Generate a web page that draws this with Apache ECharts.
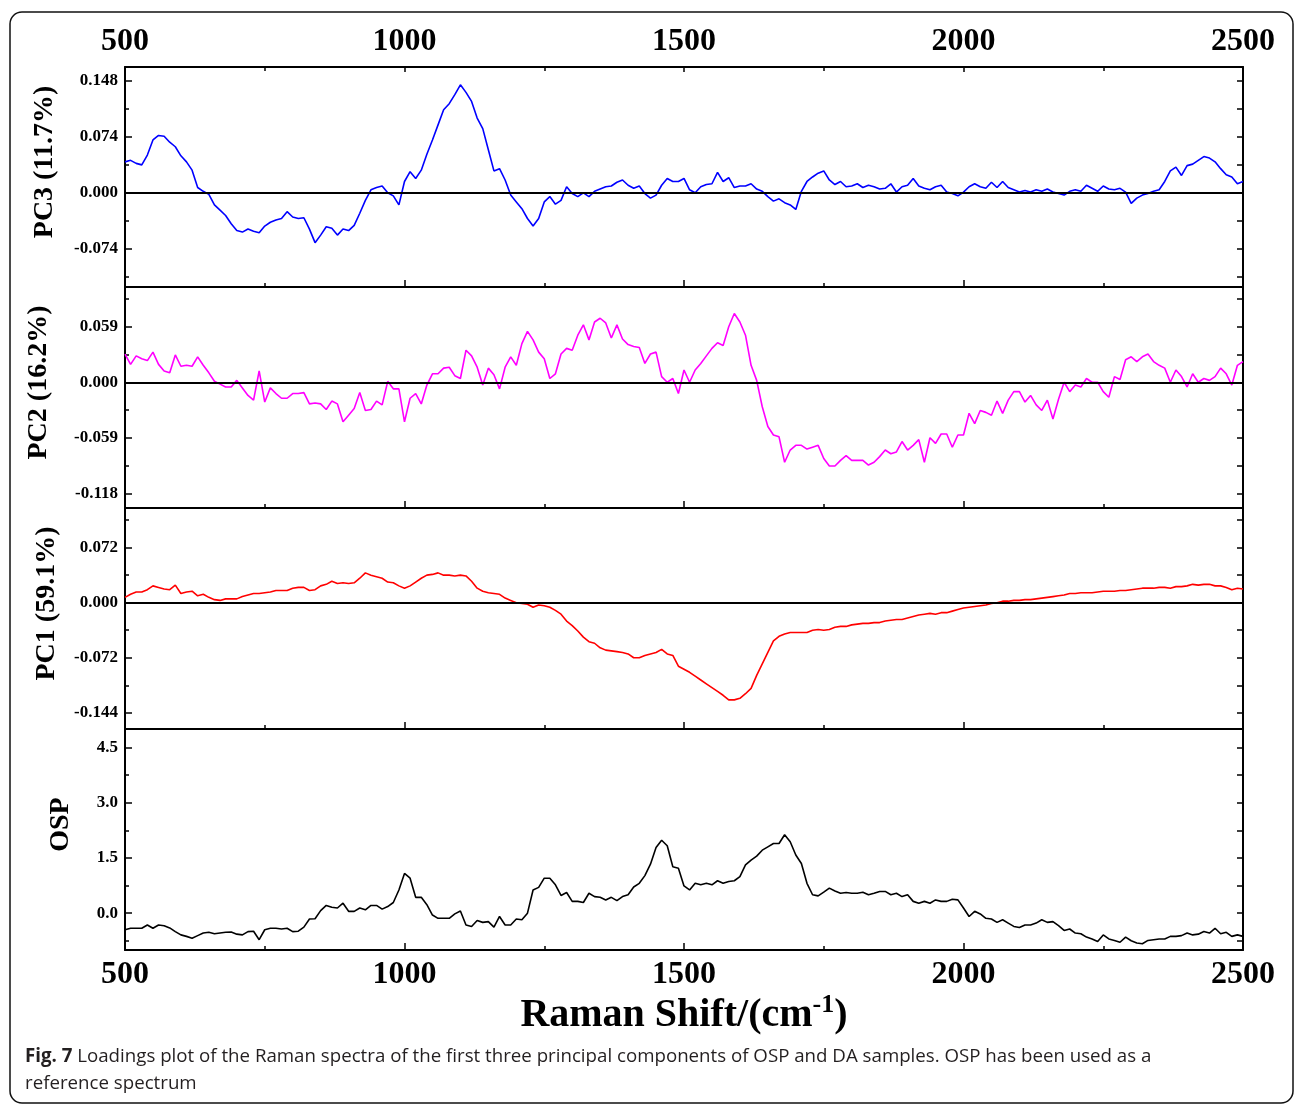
<!DOCTYPE html>
<html>
<head>
<meta charset="utf-8">
<script src="https://cdn.jsdelivr.net/npm/echarts@6/dist/echarts.min.js"></script>
<style>
html,body{margin:0;padding:0;background:#fff;}
#chart{width:1296px;height:1105px;}
</style>
</head>
<body>
<div id="chart"></div>
<script>
// Raman shift grid (cm-1)
const shiftStart = 500, shiftEnd = 2500, shiftStep = 10;
const xTickLabels = [500, 1000, 1500, 2000, 2500];

// PC3 loadings (11.7%)
const pc3 = [
0.041,0.043,0.039,0.037,0.050,0.070,0.076,0.075,0.067,0.061,
0.049,0.041,0.030,0.007,0.002,-0.002,-0.016,-0.023,-0.030,-0.041,
-0.050,-0.052,-0.048,-0.051,-0.053,-0.044,-0.039,-0.036,-0.034,-0.025,
-0.032,-0.034,-0.033,-0.048,-0.066,-0.056,-0.045,-0.047,-0.056,-0.048,
-0.050,-0.043,-0.027,-0.010,0.004,0.007,0.009,0.000,-0.004,-0.016,
0.015,0.028,0.019,0.030,0.051,0.070,0.090,0.110,0.118,0.130,
0.143,0.133,0.121,0.099,0.085,0.057,0.029,0.032,0.017,-0.003,
-0.012,-0.021,-0.034,-0.044,-0.034,-0.012,-0.005,-0.015,-0.010,0.008,
-0.001,-0.005,0.000,-0.005,0.002,0.005,0.008,0.009,0.014,0.017,
0.010,0.006,0.009,-0.001,-0.007,-0.003,0.010,0.019,0.015,0.015,
0.019,0.004,0.000,0.008,0.011,0.012,0.027,0.015,0.020,0.007,
0.009,0.009,0.012,0.005,0.002,-0.005,-0.011,-0.008,-0.013,-0.016,
-0.022,0.002,0.015,0.021,0.026,0.029,0.017,0.011,0.015,0.008,
0.009,0.012,0.007,0.010,0.008,0.005,0.006,0.012,0.001,0.008,
0.010,0.019,0.009,0.006,0.004,0.008,0.010,0.001,-0.001,-0.004,
0.001,0.008,0.012,0.008,0.006,0.014,0.007,0.015,0.007,0.004,
0.001,0.003,0.001,0.004,0.002,0.005,0.001,-0.001,-0.003,0.002,
0.004,0.002,0.010,0.006,0.002,0.009,0.005,0.004,0.006,0.001,
-0.014,-0.007,-0.003,-0.001,0.002,0.004,0.015,0.029,0.034,0.023,
0.036,0.038,0.043,0.048,0.046,0.041,0.032,0.024,0.021,0.012,
0.015];

// PC2 loadings (16.2%)
const pc2 = [
0.030,0.019,0.028,0.025,0.023,0.032,0.019,0.012,0.010,0.029,
0.017,0.018,0.017,0.027,0.018,0.010,0.001,-0.002,-0.005,-0.005,
0.002,-0.006,-0.014,-0.019,0.012,-0.021,-0.006,-0.012,-0.017,-0.017,
-0.012,-0.012,-0.011,-0.023,-0.022,-0.023,-0.029,-0.020,-0.023,-0.042,
-0.035,-0.028,-0.011,-0.030,-0.029,-0.020,-0.024,0.001,-0.007,-0.007,
-0.042,-0.017,-0.012,-0.023,-0.003,0.009,0.009,0.015,0.016,0.007,
0.004,0.034,0.028,0.016,-0.003,0.015,0.008,-0.007,0.016,0.027,
0.018,0.041,0.054,0.045,0.032,0.025,0.004,0.009,0.030,0.036,
0.034,0.050,0.061,0.045,0.064,0.068,0.063,0.047,0.061,0.046,
0.040,0.038,0.037,0.020,0.030,0.032,0.006,0.000,0.004,-0.012,
0.013,0.000,0.013,0.020,0.028,0.036,0.042,0.039,0.059,0.073,
0.064,0.050,0.018,0.002,-0.026,-0.047,-0.056,-0.058,-0.085,-0.072,
-0.067,-0.067,-0.071,-0.069,-0.067,-0.081,-0.089,-0.089,-0.083,-0.078,
-0.083,-0.083,-0.083,-0.088,-0.085,-0.079,-0.072,-0.076,-0.074,-0.063,
-0.072,-0.067,-0.061,-0.085,-0.059,-0.065,-0.055,-0.055,-0.069,-0.056,
-0.056,-0.033,-0.044,-0.030,-0.032,-0.035,-0.020,-0.033,-0.019,-0.010,
-0.010,-0.021,-0.014,-0.024,-0.030,-0.019,-0.039,-0.018,0.000,-0.010,
-0.003,-0.005,0.004,0.000,0.000,-0.010,-0.016,0.006,0.003,0.024,
0.027,0.022,0.027,0.030,0.022,0.018,0.015,0.000,0.013,0.006,
-0.005,0.009,0.000,0.004,0.002,0.006,0.015,0.009,-0.003,0.018,
0.022];

// PC1 loadings (59.1%)
const pc1 = [
0.007,0.011,0.014,0.014,0.017,0.022,0.020,0.018,0.017,0.023,
0.012,0.014,0.015,0.009,0.011,0.007,0.004,0.003,0.005,0.005,
0.005,0.008,0.010,0.012,0.012,0.013,0.014,0.016,0.016,0.016,
0.019,0.020,0.020,0.016,0.017,0.022,0.024,0.028,0.025,0.026,
0.025,0.026,0.032,0.039,0.036,0.034,0.032,0.027,0.026,0.022,
0.019,0.022,0.027,0.032,0.036,0.037,0.039,0.036,0.036,0.035,
0.036,0.035,0.028,0.019,0.015,0.013,0.012,0.011,0.006,0.003,
0.000,-0.001,-0.002,-0.006,-0.003,-0.004,-0.006,-0.010,-0.015,-0.024,
-0.030,-0.037,-0.045,-0.051,-0.053,-0.059,-0.062,-0.063,-0.064,-0.065,
-0.067,-0.072,-0.072,-0.069,-0.067,-0.065,-0.061,-0.067,-0.069,-0.083,
-0.087,-0.091,-0.096,-0.101,-0.106,-0.111,-0.116,-0.121,-0.127,-0.127,
-0.125,-0.119,-0.112,-0.095,-0.080,-0.065,-0.050,-0.044,-0.041,-0.039,
-0.039,-0.039,-0.039,-0.036,-0.035,-0.036,-0.035,-0.032,-0.031,-0.031,
-0.029,-0.028,-0.027,-0.027,-0.026,-0.026,-0.024,-0.023,-0.022,-0.022,
-0.020,-0.018,-0.016,-0.015,-0.014,-0.015,-0.013,-0.013,-0.011,-0.009,
-0.007,-0.006,-0.005,-0.004,-0.003,-0.001,0.000,0.002,0.002,0.003,
0.003,0.004,0.004,0.005,0.006,0.007,0.008,0.009,0.010,0.012,
0.012,0.013,0.013,0.013,0.014,0.015,0.015,0.015,0.016,0.016,
0.017,0.018,0.019,0.019,0.019,0.020,0.020,0.019,0.021,0.021,
0.022,0.024,0.023,0.024,0.024,0.022,0.022,0.020,0.017,0.019,
0.018];

// OSP reference spectrum
const osp = [
-0.45,-0.41,-0.41,-0.41,-0.32,-0.41,-0.32,-0.34,-0.40,-0.50,
-0.59,-0.63,-0.68,-0.61,-0.54,-0.52,-0.56,-0.54,-0.52,-0.51,
-0.57,-0.59,-0.50,-0.49,-0.72,-0.45,-0.41,-0.41,-0.43,-0.41,
-0.50,-0.49,-0.38,-0.16,-0.15,0.07,0.21,0.16,0.14,0.27,
0.05,0.05,0.14,0.09,0.21,0.21,0.11,0.18,0.29,0.63,
1.08,0.95,0.43,0.43,0.23,-0.05,-0.14,-0.14,-0.14,-0.02,
0.06,-0.32,-0.36,-0.20,-0.25,-0.23,-0.38,-0.09,-0.32,-0.32,
-0.16,-0.18,0.00,0.63,0.70,0.95,0.95,0.77,0.48,0.56,
0.32,0.32,0.29,0.54,0.45,0.43,0.36,0.43,0.34,0.45,
0.50,0.71,0.81,1.02,1.33,1.78,1.98,1.83,1.26,1.22,
0.74,0.63,0.81,0.77,0.81,0.77,0.88,0.81,0.86,0.88,
0.99,1.31,1.44,1.55,1.71,1.80,1.89,1.89,2.13,1.94,
1.58,1.35,0.81,0.50,0.47,0.57,0.68,0.60,0.54,0.56,
0.54,0.54,0.57,0.50,0.54,0.59,0.59,0.50,0.54,0.45,
0.50,0.32,0.27,0.32,0.27,0.36,0.32,0.32,0.38,0.36,
0.14,-0.09,0.05,-0.02,-0.14,-0.16,-0.25,-0.18,-0.27,-0.36,
-0.39,-0.32,-0.32,-0.27,-0.18,-0.25,-0.23,-0.34,-0.47,-0.43,
-0.54,-0.56,-0.65,-0.70,-0.77,-0.59,-0.70,-0.74,-0.79,-0.65,
-0.75,-0.81,-0.83,-0.74,-0.72,-0.70,-0.70,-0.63,-0.63,-0.61,
-0.54,-0.59,-0.57,-0.50,-0.54,-0.41,-0.56,-0.52,-0.63,-0.59,
-0.63];

// y-axis tick labels per panel
const pc3Ticks = [-0.074, 0, 0.074, 0.148];
const pc3Minor = [-0.111, -0.037, 0.037, 0.111];
const pc2Ticks = [-0.118, -0.059, 0, 0.059];
const pc2Minor = [-0.0885, -0.0295, 0.0295, 0.0885];
const pc1Ticks = [-0.144, -0.072, 0, 0.072];
const pc1Minor = [-0.108, -0.036, 0.036, 0.108];
const ospTicks = [0, 1.5, 3.0, 4.5];
const ospMinor = [-0.75, 0.75, 2.25, 3.75];

const panelNames = ['PC3 (11.7%)', 'PC2 (16.2%)', 'PC1 (59.1%)', 'OSP'];
const captionBold = 'Fig. 7';
const captionLine1 = ' Loadings plot of the Raman spectra of the first three principal components of OSP and DA samples. OSP has been used as a';
const captionLine2 = 'reference spectrum';

const SERIF = '"Liberation Serif", "Times New Roman", serif';
const pairs = arr => arr.map((v, i) => [shiftStart + i * shiftStep, v]);

const panels = [
  {data: pc3, color: '#0000ff', min: -0.1247, max: 0.1666, ticks: pc3Ticks, minor: pc3Minor, dec: 3, gap: 66, zero: true},
  {data: pc2, color: '#ff00ff', min: -0.1336, max: 0.1012, ticks: pc2Ticks, minor: pc2Minor, dec: 3, gap: 72, zero: true},
  {data: pc1, color: '#ff0000', min: -0.1651, max: 0.1238, ticks: pc1Ticks, minor: pc1Minor, dec: 3, gap: 64, zero: true},
  {data: osp, color: '#000000', min: -1, max: 5, ticks: ospTicks, minor: ospMinor, dec: 1, gap: 50, zero: false}
];
const gridTops = [67, 287, 508, 729];
const gridHeights = [220, 221, 221, 221];

const grids = [], xAxes = [], yAxes = [], series = [];
const axisLineStyle = {show: true, onZero: false, lineStyle: {color: '#000', width: 2}};
const tickStyle = {color: '#000', width: 1.5};

panels.forEach((p, i) => {
  grids.push({left: 125, width: 1118, top: gridTops[i], height: gridHeights[i]});
  // bottom x axis
  xAxes.push({
    type: 'value', gridIndex: i, position: 'bottom', min: shiftStart, max: shiftEnd, interval: 500,
    axisLine: axisLineStyle,
    axisTick: {show: true, inside: true, length: 7, lineStyle: tickStyle},
    minorTick: {show: true, splitNumber: 2, length: 4, lineStyle: tickStyle},
    splitLine: {show: false},
    axisLabel: {show: i === 3, customValues: xTickLabels, margin: 9, color: '#000', fontFamily: SERIF, fontWeight: 'bold', fontSize: 32,
      formatter: v => String(v)},
    name: i === 3 ? '{n|Raman Shift/(cm}{s|-1}{n|)}' : '',
    nameLocation: 'middle', nameGap: 42,
    nameTextStyle: {
      rich: {
        n: {fontFamily: SERIF, fontWeight: 'bold', fontSize: 40, color: '#000', verticalAlign: 'bottom'},
        s: {fontFamily: SERIF, fontWeight: 'bold', fontSize: 26, color: '#000', verticalAlign: 'bottom', padding: [0, 0, 18, 0]}
      }
    }
  });
  // top x axis
  xAxes.push({
    type: 'value', gridIndex: i, position: 'top', min: shiftStart, max: shiftEnd, interval: 500,
    axisLine: axisLineStyle,
    axisTick: {show: i === 0, inside: true, length: 5, lineStyle: tickStyle},
    minorTick: {show: i === 0, splitNumber: 2, length: 4, lineStyle: tickStyle},
    splitLine: {show: false},
    axisLabel: {show: i === 0, customValues: xTickLabels, margin: 9, color: '#000', fontFamily: SERIF, fontWeight: 'bold', fontSize: 32,
      formatter: v => String(v)}
  });
  const yBase = yAxes.length;
  // main left axis
  yAxes.push({
    type: 'value', gridIndex: i, position: 'left', min: p.min, max: p.max,
    axisLine: axisLineStyle,
    axisTick: {show: true, inside: true, length: 7, customValues: p.ticks, lineStyle: tickStyle},
    axisLabel: {show: true, customValues: p.ticks, margin: 7, color: '#000', fontFamily: SERIF, fontWeight: 'bold', fontSize: 17,
      formatter: v => Number(v).toFixed(p.dec)},
    splitLine: {show: false},
    name: panelNames[i], nameLocation: 'middle', nameGap: p.gap,
    nameTextStyle: {fontFamily: SERIF, fontWeight: 'bold', fontSize: 28, color: '#000', padding: [0, 0, 0, 30]}
  });
  // minor ticks left
  yAxes.push({
    type: 'value', gridIndex: i, position: 'left', min: p.min, max: p.max,
    axisLine: {show: false},
    axisTick: {show: true, inside: true, length: 4, customValues: p.minor, lineStyle: tickStyle},
    axisLabel: {show: false}, splitLine: {show: false}
  });
  // right axis
  yAxes.push({
    type: 'value', gridIndex: i, position: 'right', min: p.min, max: p.max,
    axisLine: axisLineStyle,
    axisTick: {show: true, inside: true, length: 6, customValues: p.ticks.concat(p.minor), lineStyle: tickStyle},
    axisLabel: {show: false}, splitLine: {show: false}
  });
  const s = {
    type: 'line', xAxisIndex: i * 2, yAxisIndex: yBase, data: pairs(p.data),
    showSymbol: false, symbol: 'none', lineStyle: {color: p.color, width: 1.6}, silent: true, z: 3
  };
  if (p.zero) {
    s.markLine = {symbol: 'none', silent: true, label: {show: false},
      lineStyle: {color: '#000', width: 2, type: 'solid'}, data: [{yAxis: 0}]};
  }
  series.push(s);
});

const chart = echarts.init(document.getElementById('chart'), null, {renderer: 'canvas'});
chart.setOption({
  animation: false,
  backgroundColor: '#ffffff',
  grid: grids, xAxis: xAxes, yAxis: yAxes, series: series,
  graphic: [
    {type: 'rect', shape: {x: 10, y: 12, width: 1283, height: 1091, r: 12}, style: {fill: 'none', stroke: '#111', lineWidth: 1.5}, z: -1},
    {type: 'text', left: 25, top: 1047, style: {
      text: '{b|' + captionBold + '}' + captionLine1,
      font: '18.7px "Open Sans", sans-serif', fill: '#231f20',
      rich: {b: {fontWeight: 'bold', fontSize: 18.7, fontFamily: '"Open Sans", sans-serif', fill: '#231f20'}}
    }},
    {type: 'text', left: 25, top: 1074, style: {
      text: captionLine2, font: '18.7px "Open Sans", sans-serif', fill: '#231f20'
    }}
  ]
});
</script>
</body>
</html>
